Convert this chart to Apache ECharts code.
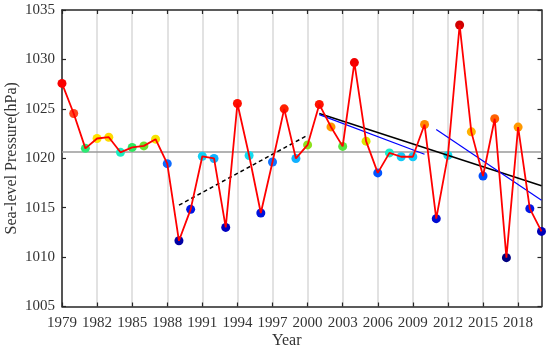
<!DOCTYPE html>
<html><head><meta charset="utf-8">
<script src="https://cdn.jsdelivr.net/npm/echarts@6/dist/echarts.min.js"></script>
<style>html,body{margin:0;padding:0;background:#fff}#c{width:550px;height:352px}</style>
</head><body><div id="c"></div>
<script>
const years = [];
for (let y = 1979; y <= 2020; y++) years.push(String(y));
const pressure = [1027.57,1024.53,1021.0,1022.0,1022.13,1020.6,1021.1,1021.25,1021.93,1019.45,
  1011.65,1014.83,1020.2,1019.98,1013.0,1025.54,1020.28,1014.46,1019.62,1025.0,
  1019.98,1021.35,1025.45,1023.17,1021.2,1029.68,1021.73,1018.52,1020.54,1020.15,
  1020.15,1023.41,1013.89,1020.29,1033.48,1022.67,1018.2,1024.0,1009.94,1023.15,
  1014.9,1012.6];
const meanLine = [['1979',1020.64],['2020',1020.64]];
const trendDashed = [['1989',1015.25],['2000',1022.33]];
const trendBlack = [['2001',1024.53],['2020',1017.22]];
const trendBlue1 = [['2001',1024.42],['2010',1020.4]];
const trendBlue2 = [['2011',1022.9],['2020',1015.74]];
const yTicks = {min:1005, max:1035, interval:5};

const colorStops = [
  [1009.9,'#000080'],[1013,'#0000c0'],[1015,'#0018e8'],[1018.3,'#0050ff'],[1019.6,'#1070ff'],
  [1020.0,'#10b4ff'],[1020.3,'#10e0f0'],[1020.7,'#20f0b0'],[1021.1,'#30e860'],[1021.3,'#80e020'],
  [1021.6,'#c8e800'],[1022.0,'#ffe400'],[1022.7,'#ffb000'],[1023.3,'#ff9000'],[1024.0,'#ff6000'],
  [1024.5,'#ff4820'],[1025.0,'#ff2000'],[1026,'#ff0000'],[1030,'#f00000'],[1033.5,'#d00000']];
function hex(c){return [parseInt(c.substr(1,2),16),parseInt(c.substr(3,2),16),parseInt(c.substr(5,2),16)];}
function cmap(v){
  if (v <= colorStops[0][0]) return colorStops[0][1];
  for (let i=1;i<colorStops.length;i++){
    if (v <= colorStops[i][0]){
      const a=colorStops[i-1], b=colorStops[i];
      const t=(v-a[0])/(b[0]-a[0]);
      const ca=hex(a[1]), cb=hex(b[1]);
      return 'rgb('+ca.map((x,k)=>Math.round(x+(cb[k]-x)*t)).join(',')+')';
    }
  }
  return colorStops[colorStops.length-1][1];
}

const font = 'Liberation Serif';
const axisCol = '#262626';
const chart = echarts.init(document.getElementById('c'));
chart.setOption({
  animation:false,
  grid:{left:62,right:8.5,top:10,bottom:45.5,containLabel:false,outerBoundsMode:'none'},
  xAxis:[{
    type:'category', data:years, boundaryGap:false, position:'bottom',
    name:'Year', nameLocation:'middle', nameGap:26, nameMoveOverlap:false,
    nameTextStyle:{fontFamily:font,fontSize:16,color:'#333',padding:[0,30,0,0]},
    axisLine:{lineStyle:{color:axisCol,width:1.5}},
    axisTick:{inside:true,length:4,interval:2,lineStyle:{color:axisCol,width:1.2}},
    axisLabel:{interval:2,fontFamily:font,fontSize:15,color:'#333',margin:9},
    splitLine:{show:true,interval:2,lineStyle:{color:'#d9d9d9',width:1.5}}
  },{
    type:'category', data:years, boundaryGap:false, position:'top',
    axisLine:{lineStyle:{color:axisCol,width:1.5}},
    axisTick:{inside:true,length:4,interval:2,lineStyle:{color:axisCol,width:1.2}},
    axisLabel:{show:false}, splitLine:{show:false}
  }],
  yAxis:[{
    type:'value', min:yTicks.min, max:yTicks.max, interval:yTicks.interval,
    name:'Sea-level Pressure(hPa)', nameLocation:'middle', nameGap:42, nameMoveOverlap:false,
    nameTextStyle:{fontFamily:font,fontSize:16,color:'#333'},
    axisLine:{show:true,lineStyle:{color:axisCol,width:1.5}},
    axisTick:{show:true,inside:true,length:4,lineStyle:{color:axisCol,width:1.2}},
    axisLabel:{fontFamily:font,fontSize:15,color:'#333',margin:7,formatter:v=>String(v)},
    splitLine:{show:false}
  },{
    type:'value', position:'right', min:yTicks.min, max:yTicks.max, interval:yTicks.interval,
    axisLine:{show:true,lineStyle:{color:axisCol,width:1.5}},
    axisTick:{show:true,inside:true,length:4,lineStyle:{color:axisCol,width:1.2}},
    axisLabel:{show:false}, splitLine:{show:false}
  }],
  series:[
    {type:'line',data:meanLine,showSymbol:false,silent:true,z:1,
     lineStyle:{color:'#9a9a9a',width:1.5}},
    {type:'scatter',data:pressure,symbolSize:9,z:2,
     itemStyle:{color:p=>cmap(p.value),opacity:1}},
    {type:'line',data:trendDashed,showSymbol:false,z:3,lineStyle:{color:'#000',width:1.5,type:[4,3]}},
    {type:'line',data:trendBlack,showSymbol:false,z:3,lineStyle:{color:'#000',width:1.5}},
    {type:'line',data:trendBlue1,showSymbol:false,z:3,lineStyle:{color:'#0000ff',width:1.2}},
    {type:'line',data:trendBlue2,showSymbol:false,z:3,lineStyle:{color:'#0000ff',width:1.2}},
    {type:'line',data:pressure,showSymbol:false,z:4,lineStyle:{color:'#ff0000',width:1.8}}
  ]
});
</script></body></html>
